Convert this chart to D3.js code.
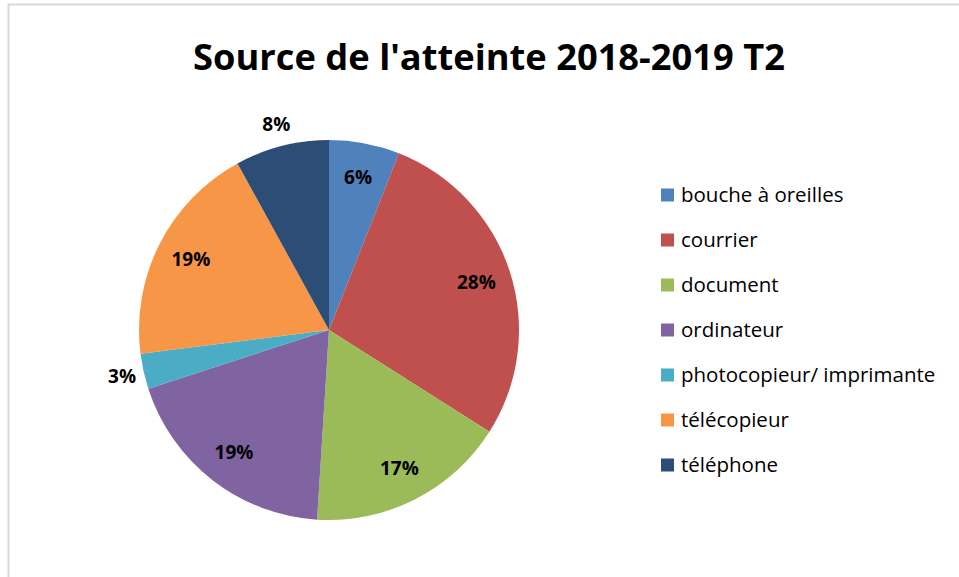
<!DOCTYPE html>
<html>
<head>
<meta charset="utf-8">
<script src="https://cdn.jsdelivr.net/npm/d3@7"></script>
<style>
  body { margin: 0; background: #fff; }
  svg { display: block; font-family: "Open Sans", "Liberation Sans", sans-serif; }
</style>
</head>
<body>
<svg id="chart" width="959" height="577"></svg>
<script>
const title = "Source de l'atteinte 2018-2019 T2"
const categories = ["bouche à oreilles", "courrier", "document", "ordinateur",
  "photocopieur/ imprimante", "télécopieur", "téléphone"]
const values = [6, 28, 17, 19, 3, 19, 8]
const colors = ["#4F81BD", "#C0504D", "#9BBB59", "#8064A2", "#4BACC6", "#F79646", "#2C4D75"]
// labels placed outside the pie
const outside_labels = ["photocopieur/ imprimante", "téléphone"]

const cfg = {
  cx: 329, cy: 330, radius: 190,
  label_in: 155, label_out: 212,
  legend_x: 661, legend_y: 195, legend_step: 45, legend_box: 13
}

const svg = d3.select("#chart")

// chart frame
svg.append("rect")
  .attr("x", 8.5).attr("y", 4.5)
  .attr("width", 1000).attr("height", 1000)
  .attr("fill", "none").attr("stroke", "#d9d9d9").attr("stroke-width", 2)

// title, fitted to the reference width
const t = svg.append("text").text(title)
  .attr("x", 489).attr("y", 70)
  .attr("text-anchor", "middle")
  .attr("font-weight", "bold").attr("font-size", 34)
  .attr("fill", "#000")
const tw = t.node().getComputedTextLength()
t.attr("font-size", 34 * 592 / tw)

const color = d3.scaleOrdinal().domain(categories).range(colors)

const pie = d3.pie().sort(null).value(d => d.value)
const arcs = pie(categories.map((c, i) => ({ name: c, value: values[i] })))
const total = d3.sum(values)

const arc = d3.arc().innerRadius(0).outerRadius(cfg.radius)
const g = svg.append("g").attr("transform", `translate(${cfg.cx},${cfg.cy})`)

g.selectAll("path.slice").data(arcs).enter().append("path")
  .attr("class", "slice")
  .attr("d", arc)
  .attr("fill", d => color(d.data.name))

g.selectAll("text.lbl").data(arcs).enter().append("text")
  .attr("class", "lbl")
  .text(d => Math.round(d.data.value / total * 100) + "%")
  .attr("transform", d => {
    const r = outside_labels.includes(d.data.name) ? cfg.label_out : cfg.label_in
    const a = (d.startAngle + d.endAngle) / 2
    return `translate(${Math.sin(a) * r},${-Math.cos(a) * r})`
  })
  .attr("text-anchor", "middle")
  .attr("dy", "0.35em")
  .attr("font-weight", "bold").attr("font-size", 19)
  .attr("fill", "#000")

// legend
const leg = svg.append("g")
categories.forEach((c, i) => {
  const y = cfg.legend_y + i * cfg.legend_step
  leg.append("rect")
    .attr("x", cfg.legend_x).attr("y", y - cfg.legend_box / 2)
    .attr("width", cfg.legend_box).attr("height", cfg.legend_box)
    .attr("fill", color(c))
  leg.append("text").text(c)
    .attr("x", cfg.legend_x + 20).attr("y", y)
    .attr("dy", "0.35em")
    .attr("font-size", 20.5)
    .attr("fill", "#000")
})
</script>
</body>
</html>
